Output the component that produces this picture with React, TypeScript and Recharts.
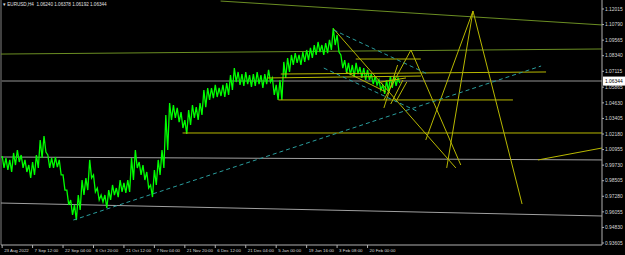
import React from "react";
import { ComposedChart, Line, XAxis, YAxis, ReferenceLine } from "recharts";

const symbol = "EURUSD,H4";
const ohlc = ["1.06240", "1.06378", "1.06192", "1.06344"];
const lastPrice = 1.06344;

const timeLabels = [
  "23 Aug 2022", "7 Sep 12:00", "22 Sep 04:00", "6 Oct 20:00", "21 Oct 12:00",
  "7 Nov 04:00", "21 Nov 20:00", "6 Dec 12:00", "21 Dec 04:00", "5 Jan 00:00",
  "19 Jan 16:00", "3 Feb 08:00", "20 Feb 00:00",
];
const timeTicks = [0, 8, 16, 24, 32, 40, 48, 56, 64, 72, 80, 88, 96];

const priceLabels = [
  "1.12015", "1.10790", "1.09565", "1.08340", "1.07115", "1.05865", "1.04630", "1.03405",
  "1.02180", "1.00955", "0.99730", "0.98505", "0.97280", "0.96055", "0.94830", "0.93605",
];

// H4 bars, high / low
const highs = [
  1.0045, 1.0029, 1.0014, 1.0069, 1.0092, 1.0053, 1.0014, 0.9974, 0.9998, 1.0053,
  1.0171, 1.0202, 1.0053, 1.0029, 1.0037, 1.0014, 0.9896, 0.9777, 0.9699, 0.9660,
  0.9738, 0.9856, 0.9872, 1.0014, 0.9896, 0.9793, 0.9738, 0.9738, 0.9777, 0.9817,
  0.9793, 0.9856, 0.9833, 0.9856, 1.0029, 1.0092, 0.9998, 0.9974, 0.9919, 0.9817,
  0.9935, 1.0014, 1.0092, 1.0368, 1.0462, 1.0446, 1.0423, 1.0391, 1.0328, 1.0407,
  1.0446, 1.0430, 1.0462, 1.0564, 1.0580, 1.0580, 1.0604, 1.0580, 1.0604, 1.0619,
  1.0682, 1.0737, 1.0706, 1.0690, 1.0706, 1.0682, 1.0690, 1.0706, 1.0682, 1.0690,
  1.0722, 1.0659, 1.0604, 1.0643, 1.0785, 1.0816, 1.0840, 1.0855, 1.0840, 1.0863,
  1.0879, 1.0895, 1.0918, 1.0942, 1.0918, 1.0934, 1.0958, 1.1052, 1.0997, 1.0840,
  1.0800, 1.0777, 1.0761, 1.0777, 1.0745, 1.0737, 1.0722, 1.0690, 1.0674, 1.0643,
  1.0604, 1.0643, 1.0674, 1.0674, 1.0659,
];
const lows = [
  0.9951, 0.9935, 0.9919, 0.9974, 0.9998, 0.9951, 0.9919, 0.9872, 0.9896, 0.9951,
  1.0029, 1.0076, 0.9951, 0.9951, 0.9958, 0.9896, 0.9777, 0.9660, 0.9581, 0.9541,
  0.9620, 0.9738, 0.9777, 0.9872, 0.9762, 0.9699, 0.9683, 0.9636, 0.9699, 0.9738,
  0.9722, 0.9762, 0.9754, 0.9762, 0.9856, 0.9951, 0.9896, 0.9856, 0.9793, 0.9722,
  0.9817, 0.9896, 0.9951, 1.0092, 1.0328, 1.0344, 1.0312, 1.0265, 1.0218, 1.0289,
  1.0344, 1.0328, 1.0368, 1.0430, 1.0486, 1.0501, 1.0509, 1.0517, 1.0509, 1.0525,
  1.0564, 1.0627, 1.0604, 1.0596, 1.0611, 1.0588, 1.0596, 1.0611, 1.0580, 1.0611,
  1.0627, 1.0525, 1.0486, 1.0486, 1.0659, 1.0706, 1.0761, 1.0777, 1.0761, 1.0785,
  1.0800, 1.0816, 1.0840, 1.0863, 1.0840, 1.0855, 1.0879, 1.0918, 1.0863, 1.0737,
  1.0698, 1.0682, 1.0667, 1.0690, 1.0659, 1.0643, 1.0643, 1.0611, 1.0604, 1.0564,
  1.0533, 1.0549, 1.0580, 1.0596, 1.0619,
];

// drawn objects: [x1, y1, x2, y2] in bar index / price
const olive = [
  [57.4, 1.1264, 157.6, 1.1076],
  [-0.3, 1.0847, 157.6, 1.0887],
];
const gray = [
  [-0.3, 1.0037, 157.6, 1.0014],
  [-0.3, 0.9675, 157.6, 0.9573],
];
const yellow = [
  [47.4, 1.0226, 157.6, 1.0226],
  [72.6, 1.0486, 134.2, 1.0486],
  [73.2, 1.069, 142.9, 1.0706],
  [69.7, 1.0659, 110.0, 1.0674],
  [92.9, 1.0808, 110.0, 1.0808],
  [87.1, 1.1044, 119.2, 0.9951],
  [107.4, 1.0879, 100.3, 1.0486],
  [107.4, 1.0879, 120.5, 0.9974],
  [123.7, 1.1186, 111.3, 1.0171],
  [123.7, 1.1186, 116.8, 0.9951],
  [123.7, 1.1186, 136.6, 0.9667],
  [140.8, 1.0014, 157.6, 1.0108],
  [90.3, 1.0706, 100.8, 1.0549],
  [100.3, 1.0423, 103.9, 1.0761],
  [102.1, 1.0454, 105.3, 1.0643],
  [103.4, 1.047, 106.3, 1.0627],
  [99.5, 1.0627, 106.1, 1.0659],
];
const cyan = [
  [18.7, 0.9541, 141.6, 1.0753],
  [87.1, 1.1036, 111.8, 1.069],
  [84.5, 1.0737, 109.5, 1.0391],
];

// each bar drawn as a high -> low stroke, giving the dense bar-chart look
const data = highs.flatMap((h, i) => [
  { i, p: h },
  { i: i + 0.5, p: lows[i] },
]);
const font = "'Liberation Sans', Arial, sans-serif";

const TimeTick = ({ x, y, payload }: any) => {
  const k = timeTicks.indexOf(payload.value);
  return (
    <text x={x + 2} y={y + 3.5} fill="#d8d8d8" fontSize={4.4} fontFamily={font}>
      {timeLabels[k]}
    </text>
  );
};

const PriceTick = ({ x, y, payload }: any) => (
  <text x={x + 1} y={y + 1.7} fill="#d8d8d8" fontSize={4.9} fontFamily={font}>
    {priceLabels.find((p) => Math.abs(parseFloat(p) - payload.value) < 1e-6)}
  </text>
);

const PriceTag = ({ viewBox }: any) => {
  const right = viewBox.x + viewBox.width;
  return (
    <g>
      <rect x={right + 1} y={viewBox.y - 4.5} width={22} height={9} fill="#ffffff" />
      <text x={right + 3} y={viewBox.y + 1.8} fill="#000" fontSize={4.9} fontFamily={font}>
        {lastPrice.toFixed(5)}
      </text>
    </g>
  );
};

const seg = (s: number[], stroke: string, key: string, dash?: string) => (
  <ReferenceLine
    key={key}
    segment={[{ x: s[0], y: s[1] }, { x: s[2], y: s[3] }]}
    stroke={stroke}
    strokeWidth={1}
    strokeDasharray={dash}
    ifOverflow="hidden"
  />
);

export default function App() {
  return (
    <div style={{ position: "absolute", left: 0, top: 0, width: 625, height: 255, background: "#000" }}>
      <ComposedChart width={625} height={255} data={data} margin={{ top: 0, right: 0, bottom: 0, left: 1 }}>
        <XAxis
          dataKey="i"
          type="number"
          domain={[-0.3, 157.6]}
          ticks={timeTicks}
          interval={0}
          tick={<TimeTick />}
          height={10}
          tickSize={3}
          tickMargin={0}
          stroke="#b0b0b0"
          allowDataOverflow
        />
        <YAxis
          orientation="right"
          type="number"
          domain={[0.93448, 1.12723]}
          ticks={priceLabels.map(Number)}
          interval={0}
          tick={<PriceTick />}
          width={23}
          tickSize={2}
          tickMargin={0}
          stroke="#b0b0b0"
          allowDataOverflow
        />
        <ReferenceLine x={-0.3} stroke="#808080" />
        <ReferenceLine y={lastPrice} stroke="#4a4a4a" strokeWidth={2} label={<PriceTag />} />
        {olive.map((s, k) => seg(s, "#6b8e23", "o" + k))}
        {gray.map((s, k) => seg(s, "#a0a0a0", "g" + k))}
        <Line
          dataKey="p"
          type="linear"
          stroke="#00ff00"
          strokeWidth={1.3}
          dot={false}
          isAnimationActive={false}
        />
        {yellow.map((s, k) => seg(s, "#b8b800", "y" + k))}
        {cyan.map((s, k) => seg(s, "#2a9d9d", "c" + k, "4 3"))}
      </ComposedChart>
      <div
        style={{
          position: "absolute", left: 3, top: 1, color: "#e0e0e0", fontSize: 4.6,
          fontFamily: font, whiteSpace: "pre", lineHeight: "8px",
        }}
      >
        {"▾ " + symbol + "  " + ohlc.join(" ")}
      </div>
    </div>
  );
}
